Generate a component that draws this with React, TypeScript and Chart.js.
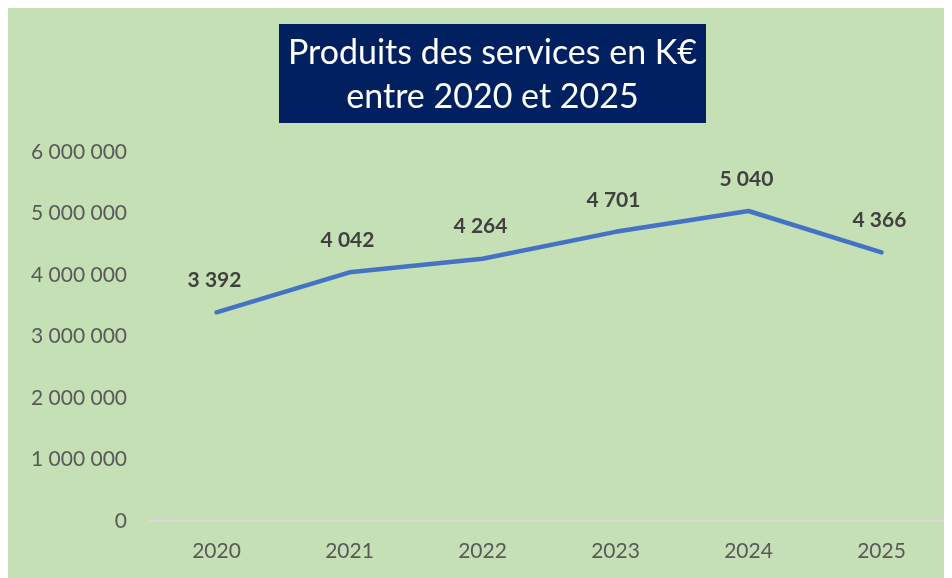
import React, { useEffect, useRef } from "react";
import { Chart, registerables } from "chart.js";

Chart.register(...registerables);

const categories = ["2020", "2021", "2022", "2023", "2024", "2025"];
const valuesKEuro = [3392, 4042, 4264, 4701, 5040, 4366];
const seriesValues = valuesKEuro.map((v) => v * 1000);
const titleLines = ["Produits des services en K€", "entre 2020 et 2025"];
const yMin = 0;
const yMax = 6000000;
const yStep = 1000000;

const fmt = (n: number) =>
  Math.round(n).toString().replace(/\B(?=(\d{3})+(?!\d))/g, " ");

const FONT = "Lato, 'Noto Sans', sans-serif";

const titlePlugin = {
  id: "titleBox",
  afterDraw(chart: any) {
    const ctx = chart.ctx;
    ctx.save();
    ctx.fillStyle = "#002060";
    ctx.fillRect(271, 16, 427, 99);
    ctx.fillStyle = "#ffffff";
    ctx.font = `34px ${FONT}`;
    ctx.textAlign = "center";
    ctx.textBaseline = "middle";
    ctx.fillText(titleLines[0], 484.5, 45);
    ctx.fillText(titleLines[1], 484.5, 89);
    ctx.restore();
  },
};

const dataLabelPlugin = {
  id: "dataLabels",
  afterDatasetsDraw(chart: any) {
    const ctx = chart.ctx;
    const meta = chart.getDatasetMeta(0);
    ctx.save();
    ctx.fillStyle = "#404040";
    ctx.font = `bold 21px ${FONT}`;
    ctx.textAlign = "center";
    ctx.textBaseline = "middle";
    meta.data.forEach((pt: any, i: number) => {
      ctx.fillText(fmt(valuesKEuro[i]), pt.x - 2, pt.y - 32);
    });
    ctx.restore();
  },
};

export default function App() {
  const ref = useRef<HTMLCanvasElement | null>(null);
  useEffect(() => {
    document.body.style.overflow = "hidden";
    if (!ref.current) return;
    const chart = new Chart(ref.current, {
      type: "line",
      data: {
        labels: categories,
        datasets: [
          {
            data: seriesValues,
            borderColor: "#4472C4",
            borderWidth: 4.5,
            pointRadius: 0,
            tension: 0,
            borderCapStyle: "round",
            borderJoinStyle: "round",
            fill: false,
          },
        ],
      },
      options: {
        animation: false,
        responsive: false,
        maintainAspectRatio: false,
        layout: { padding: { top: 144, left: 0, right: 4, bottom: -4 } },
        plugins: {
          legend: { display: false },
          title: { display: false },
          tooltip: { enabled: false },
        },
        scales: {
          x: {
            offset: true,
            grid: { display: false, drawTicks: false },
            border: { display: true, color: "#D9D9D9", width: 2 },
            ticks: {
              color: "#595959",
              font: { family: FONT, size: 21 },
              padding: 18,
            },
          },
          y: {
            min: yMin,
            max: yMax,
            grid: { display: false, drawTicks: false },
            border: { display: false },
            ticks: {
              stepSize: yStep,
              color: "#595959",
              font: { family: FONT, size: 21 },
              padding: 23,
              callback: (v: any) => fmt(Number(v)),
            },
          },
        },
      },
      plugins: [titlePlugin, dataLabelPlugin],
    });
    return () => chart.destroy();
  }, []);
  return (
    <div
      style={{
        width: 944,
        height: 570,
        background: "#C5E0B4",
        boxShadow: "-1px -1px 0 #D9D9D9",
      }}
    >
      <canvas ref={ref} width={944} height={570} style={{ display: "block" }} />
    </div>
  );
}
